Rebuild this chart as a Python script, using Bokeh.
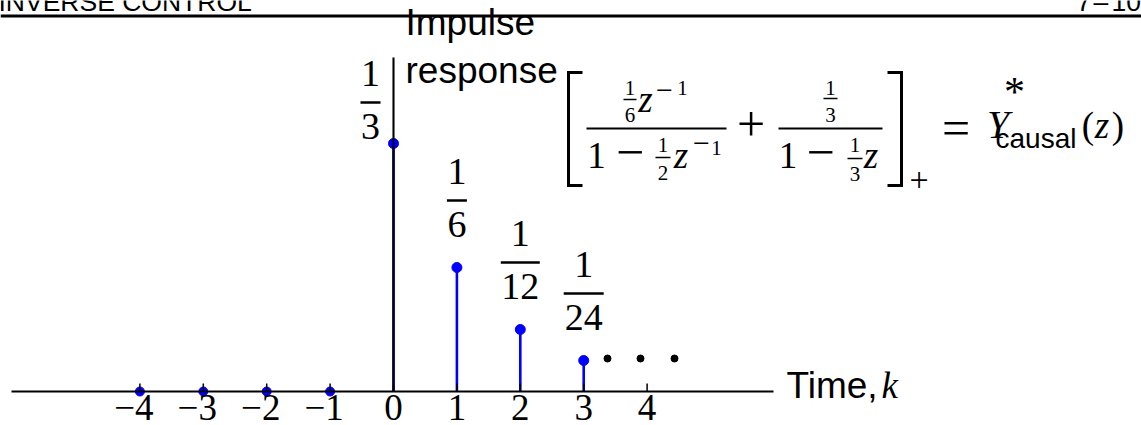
from bokeh.plotting import figure
from bokeh.models import Range1d, ColumnDataSource
from bokeh.core.properties import value
from bokeh.embed import file_html
from bokeh.resources import INLINE

# Impulse response of the causal part: samples k = 0..3
k_causal = [0, 1, 2, 3]
h_causal = [1 / 3, 1 / 6, 1 / 12, 1 / 24]
h_num = ["1", "1", "1", "1"]
h_den = ["3", "6", "12", "24"]

# Anti-causal samples (all zero)
k_anti = [-4, -3, -2, -1]
h_anti = [0, 0, 0, 0]

# Time axis ticks
tick_values = [-4, -3, -2, -1, 0, 1, 2, 3, 4]
tick_labels = ["−4", "−3", "−2", "−1", "0", "1", "2", "3", "4"]

SERIF = "Liberation Serif"
SANS = "Liberation Sans"
BLUE = "#0000ff"
# distance from the vertical middle of a text line down to its baseline (em)
MID = {SERIF: 0.34, SANS: 0.35}

W, H = 1141, 425
OX, OY = 393, 391      # canvas pixel of the origin (k = 0, h = 0)
K_PX = 63.4            # pixels per time step
V_PX = 744.0           # pixels per unit of response


def cx(px):
    return (px - OX) / K_PX


def cy(py):
    return (OY - py) / V_PX


def up(px):
    return px / V_PX


p = figure(width=W, height=H, title=None,
           x_range=Range1d(cx(0), cx(W)), y_range=Range1d(cy(H), cy(0)),
           x_axis_type=None, y_axis_type=None,
           output_backend="svg", toolbar_location=None, min_border=0)
p.outline_line_color = None
p.background_fill_color = "white"
p.border_fill_color = "white"


def put(txt, x, base, size, font=SERIF, style="normal", align="center"):
    """Text whose baseline sits at canvas row `base`."""
    p.text(x=[cx(x)], y=[cy(base - MID[font] * size)], text=[txt],
           text_font=value(font), text_font_size=f"{size}px",
           text_font_style=style, text_align=align, text_baseline="middle",
           text_color="black")


def stroke(xs, ys, w):
    p.line([cx(x) for x in xs], [cy(y) for y in ys], line_color="black",
           line_width=w, line_join="miter")


# ---- page header -------------------------------------------------------
put("INVERSE CONTROL", -2, 11, 26.5, SANS, align="left")
put("7", 1076, 11, 26.5, SANS, align="left")
put("–", 1093, 11, 26.5, SANS, align="left")
put("10", 1111, 11, 26.5, SANS, align="left")
stroke([0, W], [15.5, 15.5], 3)

# ---- stems -------------------------------------------------------------
src = ColumnDataSource(dict(k=k_causal, h=h_causal, zero=[0] * len(k_causal),
                            num=h_num, den=h_den))
p.segment(x0="k", y0="zero", x1="k", y1="h", source=src,
          line_color=BLUE, line_width=2.6)
p.scatter("k", "h", source=src, size=10, color=BLUE)
p.scatter(k_anti, h_anti, size=9, color=BLUE)

# vertical axis through k = 0 (drawn over the first stem)
p.segment(x0=[0], y0=[0], x1=[0], y1=[cy(57)], line_color="black", line_width=2.1)

# horizontal time axis, ticks pointing up
p.segment(x0=[cx(11)], y0=[0], x1=[cx(773)], y1=[0], line_color="black", line_width=1.8)
p.segment(x0=tick_values, y0=[0] * len(tick_values), x1=tick_values,
          y1=[up(8)] * len(tick_values), line_color="black", line_width=1.5)
TICK_SIZE = 37
p.text(x=tick_values, y=[-up(29 - MID[SERIF] * TICK_SIZE)] * len(tick_values),
       text=tick_labels, x_offset=[-6 if t < 0 else 0 for t in tick_values],
       text_font=value(SERIF), text_font_size=f"{TICK_SIZE}px", text_align="center",
       text_baseline="middle", text_color="black")

# continuation dots after the last sample
p.scatter([cx(607), cx(640), cx(674)], [cy(358)] * 3, size=7, color="black")

# ---- value labels as fractions above each stem ---------------------------
LBL_SIZE = 38
shift = [-23, 0, 0, 0]       # horizontal shift of each label (px)
lift = [41, 67, 67, 67]      # height of the fraction bar above the dot (px)
bar_w = [20, 20, 39, 40]     # fraction bar widths (px)
mid = MID[SERIF] * LBL_SIZE
p.text(x=k_causal, y=[h + up(l + 16 + mid) for h, l in zip(h_causal, lift)], text=h_num,
       x_offset=shift, text_font=value(SERIF), text_font_size=f"{LBL_SIZE}px",
       text_align="center", text_baseline="middle", text_color="black")
p.text(x=k_causal, y=[h + up(l - 37 + mid) for h, l in zip(h_causal, lift)], text=h_den,
       x_offset=shift, text_font=value(SERIF), text_font_size=f"{LBL_SIZE}px",
       text_align="center", text_baseline="middle", text_color="black")
p.segment(x0=[k + (s - w / 2) / K_PX for k, s, w in zip(k_causal, shift, bar_w)],
          x1=[k + (s + w / 2) / K_PX for k, s, w in zip(k_causal, shift, bar_w)],
          y0=[h + up(l) for h, l in zip(h_causal, lift)],
          y1=[h + up(l) for h, l in zip(h_causal, lift)],
          line_color="black", line_width=2.5)

# ---- captions -------------------------------------------------------------
put("Impulse", 405, 35, 37, SANS, align="left")
put("response", 405, 83, 37, SANS, align="left")
put("Time,", 786, 398, 37, SANS, align="left")
put("k", 881, 398, 37, SERIF, "italic", align="left")

# ---- [ z^-1/6 / (1 - z^-1/2) + (1/3) / (1 - z/3) ]_+ = Y*_causal(z) --------
M, S = 37, 21
stroke([582, 568, 568, 582], [72, 72, 185, 185], 3)
stroke([887, 901, 901, 887], [72, 72, 185, 185], 3)

# first fraction
stroke([586, 726], [128, 128], 2)
put("1", 629.5, 95, S)
stroke([623, 636], [99, 99], 1.5)
put("6", 629.5, 121.5, S)
put("z", 645, 112, M, style="italic")
put("−", 664, 100, 30)
put("1", 682, 95, S)

put("1", 596, 168, M)
put("−", 629.5, 169, 50)
put("1", 662.5, 152, S)
stroke([655, 670], [157, 157], 1.5)
put("2", 662.5, 180, S)
put("z", 680.5, 168, M, style="italic")
put("−", 701, 153, 30)
put("1", 716, 155, S)

put("+", 750.5, 140.5, 50)

# second fraction
stroke([778, 882], [128, 128], 2)
put("1", 830, 95, S)
stroke([823, 837], [98, 98], 1.5)
put("3", 830, 121.5, S)

put("1", 787.5, 168, M)
put("−", 820, 169, 50)
put("1", 854.5, 152, S)
stroke([847, 862], [158, 158], 1.5)
put("3", 854.5, 181, S)
put("z", 870.5, 168, M, style="italic")

put("+", 918.5, 191.5, 34)

put("=", 955.5, 144, 50)
put("Y", 997.5, 138, 40, style="italic")
put("*", 1014, 106, 42)
put("causal", 995, 148, 28, SANS, align="left")
put("(", 1087.5, 138, M)
put("z", 1101.5, 138, M, style="italic")
put(")", 1117.5, 138, M)

open("out.html", "w").write(file_html(p, INLINE))
